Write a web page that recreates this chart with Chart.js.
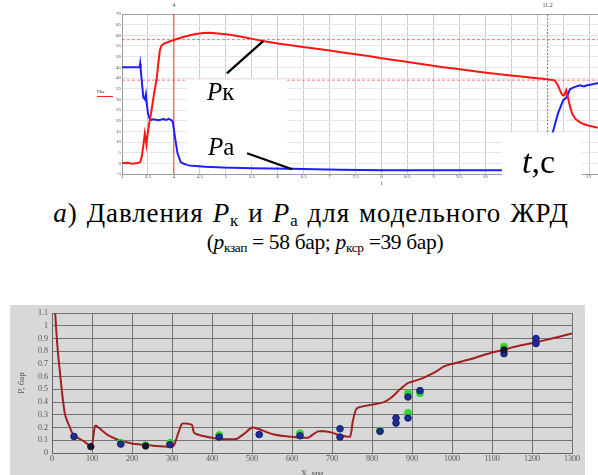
<!DOCTYPE html>
<html>
<head>
<meta charset="utf-8">
<script src="https://cdn.jsdelivr.net/npm/chart.js@4/dist/chart.umd.min.js"></script>
<style>
  html, body { margin: 0; padding: 0; background: #fff; width: 598px; height: 475px; overflow: hidden; }
  .wrap { position: absolute; left: 0; overflow: hidden; width: 598px; }
  .txt { position: absolute; font-family: "Liberation Serif", "Times New Roman", serif; color: #000; line-height: 1; white-space: nowrap; }
  .cap { width: 600px; text-align: center; }
  .txt sub { font-size: 62%; vertical-align: -0.25em; line-height: 0; }
  #panel { position: absolute; left: 10px; top: 305px; width: 575px; height: 170px; background: #d8d8d8; }
</style>
</head>
<body>
<div class="wrap" style="top:0;height:190px;"><canvas id="top" width="650" height="190"></canvas></div>

<!-- labels of the engine pressure plot -->
<div class="txt" style="left:97px;top:89px;font-size:5px;color:#333;">Pka</div>
<div style="position:absolute;left:97px;top:96px;width:16px;height:1px;background:#ff2020;"></div>
<div class="txt" style="left:207px;top:79px;font-size:25px;"><i>P</i>к</div>
<div class="txt" style="left:208px;top:134px;font-size:25px;"><i>P</i>a</div>
<div class="txt" style="left:522px;top:145px;font-size:34px;"><i>t</i>,с</div>

<div class="txt cap" style="left:11px;top:200px;font-size:27px;letter-spacing:0.9px;word-spacing:1.5px;"><i>а</i>) Давления <i>P</i><sub>к</sub> и <i>P</i><sub>а</sub> для модельного ЖРД</div>
<div class="txt cap" style="left:25px;top:232px;font-size:21.5px;letter-spacing:-0.35px;">(<i>p</i><sub>кзап</sub> = 58 бар; <i>p</i><sub>кср</sub> =39 бар)</div>

<div id="panel"></div>
<div class="wrap" style="top:290px;height:185px;"><canvas id="bottom" width="598" height="200"></canvas></div>

<script>
// ---------- engine pressures vs time ----------
const pkTime  = [3.0, 3.1, 3.2, 3.3, 3.35, 3.38, 3.42, 3.44, 3.46, 3.47, 3.49, 3.52, 3.57, 3.62, 3.67, 3.7, 3.73, 3.76, 3.8, 3.9, 4.0, 4.1, 4.2, 4.31, 4.42, 4.56, 4.7, 4.85, 5.08, 5.25, 5.4, 5.56, 5.72, 6.0, 6.25, 6.49, 6.75, 7.0, 7.25, 7.5, 7.75, 7.97, 8.2, 8.45, 8.7, 8.93, 9.15, 9.4, 9.65, 9.9, 10.15, 10.4, 10.65, 10.86, 11.1, 11.34, 11.4, 11.44, 11.48, 11.52, 11.56, 11.6, 11.64, 11.68, 11.74, 11.82, 11.9, 12.0, 12.15, 12.3, 12.5];
const pkValue = [0.0, 0.3, -0.2, 0.2, 0.5, 3.0, 10.0, 14.0, 11.0, 9.0, 13.0, 18.0, 25.0, 33.0, 40.0, 47.0, 53.0, 55.2, 56.0, 57.0, 57.8, 58.6, 59.3, 60.0, 60.6, 61.1, 61.2, 60.9, 60.3, 59.6, 58.9, 58.1, 57.3, 56.2, 55.3, 54.5, 53.7, 52.9, 52.0, 51.1, 50.3, 49.4, 48.6, 47.7, 46.8, 46.0, 45.2, 44.4, 43.6, 42.8, 42.1, 41.4, 40.8, 40.2, 39.6, 38.9, 36.5, 34.2, 32.2, 31.8, 34.3, 30.0, 26.0, 23.0, 20.8, 19.3, 18.3, 17.6, 16.8, 16.3, 15.8];

const paTime  = [3.0, 3.2, 3.34, 3.35, 3.36, 3.38, 3.41, 3.44, 3.46, 3.47, 3.5, 3.53, 3.56, 3.6, 3.7, 3.8, 3.85, 3.9, 3.95, 3.98, 4.01, 4.03, 4.07, 4.13, 4.2, 4.31, 4.6, 4.95, 5.5, 6.24, 7.2, 8.0, 9.0, 10.0, 11.2, 11.25, 11.3, 11.4, 11.5, 11.57, 11.63, 11.7, 11.82, 11.9, 11.96, 12.05, 12.15, 12.3, 12.5];
const paValue = [45.0, 45.0, 45.0, 46.7, 44.0, 39.0, 31.0, 30.0, 32.4, 29.5, 23.4, 21.0, 20.3, 20.6, 20.2, 20.8, 20.3, 20.9, 20.3, 19.4, 14.0, 10.8, 4.7, 0.6, -0.3, -1.0, -1.6, -2.0, -2.3, -2.5, -3.0, -3.2, -3.3, -3.3, -3.3, 3.0, 14.5, 23.4, 29.5, 31.0, 34.7, 35.6, 36.6, 36.0, 36.6, 37.0, 37.5, 37.8, 38.0];

const refLevels   = [58, 39];     // p_kzap and p_kcp levels, bar
const cursorTimes = [4, 11.2];    // cursor markers, s
const timeRange   = [3, 13];
const topTicksX   = [3, 3.5, 4, 4.5, 5, 5.5, 6, 6.5, 7, 7.5, 8, 8.5, 9, 9.5, 10, 10.5, 11, 11.5, 12, 12.5, 13];
const topTicksY   = [-5, 0, 5, 10, 15, 20, 25, 30, 35, 40, 45, 50, 55, 60, 65, 70];

// ---------- pressure along the nozzle ----------
const profileX = [8, 12, 16, 20, 26, 32, 38, 45, 50, 57, 70, 85, 97, 100, 103, 107, 110, 120, 140, 160, 180, 200, 230, 260, 295, 305, 315, 325, 340, 350, 355, 370, 400, 420, 460, 480, 500, 515, 550, 590, 640, 650, 665, 680, 700, 720, 745, 752, 762, 800, 830, 850, 870, 890, 900, 920, 935, 960, 980, 1000, 1050, 1100, 1130, 1150, 1210, 1250, 1300];
const profileP = [1.1, 0.9, 0.75, 0.63, 0.45, 0.31, 0.25, 0.2, 0.16, 0.13, 0.11, 0.08, 0.05, 0.06, 0.12, 0.21, 0.215, 0.19, 0.14, 0.11, 0.09, 0.075, 0.065, 0.055, 0.05, 0.06, 0.15, 0.23, 0.23, 0.22, 0.16, 0.14, 0.12, 0.11, 0.11, 0.15, 0.2, 0.19, 0.15, 0.13, 0.12, 0.14, 0.17, 0.17, 0.16, 0.14, 0.13, 0.25, 0.35, 0.38, 0.4, 0.44, 0.5, 0.55, 0.56, 0.58, 0.6, 0.64, 0.68, 0.7, 0.74, 0.79, 0.81, 0.83, 0.87, 0.9, 0.94];

const greenX = [172, 234, 295, 418, 620, 820, 890, 890, 920, 1130];
const greenP = [0.08, 0.06, 0.08, 0.14, 0.155, 0.175, 0.47, 0.315, 0.47, 0.835];
const blueX  = [55, 172, 295, 418, 518, 620, 720, 720, 820, 860, 860, 890, 890, 920, 1130, 1210, 1210];
const blueP  = [0.13, 0.07, 0.065, 0.125, 0.145, 0.135, 0.19, 0.125, 0.17, 0.275, 0.235, 0.44, 0.275, 0.49, 0.78, 0.9, 0.86];
const darkX  = [97, 234, 1130];
const darkP  = [0.05, 0.055, 0.81];

const pts = (xs, ys) => xs.map((x, i) => ({ x, y: ys[i] }));
const plain = v => String(v);

// blank label boxes and leader lines on the time plot (value coordinates)
const labelBoxes = [
  { t0: 4.25, t1: 6.18, v0: -0.5, v1: 39.3, below: 0 },
  { t0: 10.32, t1: 11.86, v0: null, v1: 14.5, below: 7 }
];
const leaders = [
  [[5.02, 42.2], [5.72, 57.3]],
  [[5.41, 4.7], [6.28, -2.8]]
];

const topOverlay = {
  id: 'topOverlay',
  afterDraw(chart) {
    const { ctx, chartArea, scales: { x, y } } = chart;
    ctx.save();
    ctx.fillStyle = '#fff';
    labelBoxes.forEach(b => {
      const xl = x.getPixelForValue(b.t0), xr = x.getPixelForValue(b.t1);
      const yt = y.getPixelForValue(b.v1);
      const yb = b.v0 === null ? chartArea.bottom + b.below : y.getPixelForValue(b.v0);
      ctx.fillRect(xl, yt, xr - xl, yb - yt);
    });
    ctx.strokeStyle = '#000';
    ctx.lineWidth = 2.2;
    leaders.forEach(([a, b]) => {
      ctx.beginPath();
      ctx.moveTo(x.getPixelForValue(a[0]), y.getPixelForValue(a[1]));
      ctx.lineTo(x.getPixelForValue(b[0]), y.getPixelForValue(b[1]));
      ctx.stroke();
    });
    ctx.fillStyle = '#444';
    ctx.font = '6px "Liberation Serif"';
    ctx.textAlign = 'center';
    ctx.textBaseline = 'middle';
    cursorTimes.forEach(c => ctx.fillText(String(c), x.getPixelForValue(c), chartArea.top - 9));
    ctx.restore();
  }
};

const refSets = refLevels.map(v => ({
  data: [{ x: timeRange[0], y: v }, { x: timeRange[1], y: v }],
  borderColor: 'rgba(255,70,70,0.75)', borderWidth: 1, borderDash: [3, 2], pointRadius: 0, order: 3
}));
const cursorSets = cursorTimes.map((c, i) => ({
  data: [{ x: c, y: topTicksY[0] }, { x: c, y: topTicksY[topTicksY.length - 1] }],
  borderColor: 'rgba(230,30,30,0.8)', borderWidth: 1, borderDash: i === 0 ? [] : [2, 1.5], pointRadius: 0, order: 3
}));

new Chart(document.getElementById('top'), {
  type: 'line',
  data: {
    datasets: [
      { data: pts(pkTime, pkValue), borderColor: '#ff1414', borderWidth: 2, pointRadius: 0, order: 0 },
      { data: pts(paTime, paValue), borderColor: '#1e1eff', borderWidth: 2, pointRadius: 0, order: 1 },
      ...refSets, ...cursorSets
    ]
  },
  options: {
    responsive: false, animation: false, devicePixelRatio: 1,
    layout: { padding: { top: 14, right: 9, left: 0, bottom: 0 } },
    plugins: { legend: { display: false }, tooltip: { enabled: false } },
    scales: {
      x: {
        type: 'linear', min: timeRange[0], max: timeRange[1],
        afterBuildTicks: s => { s.ticks = topTicksX.map(v => ({ value: v })); },
        afterFit: s => { s.height = 16; },
        grid: { color: '#cdcdcd', drawTicks: false },
        border: { color: '#9a9a9a' },
        ticks: { padding: 0, callback: plain, font: { family: 'Liberation Serif', size: 5 }, color: '#444', maxRotation: 0, autoSkip: false },
        title: { display: true, text: 't', font: { family: 'Liberation Serif', size: 6 }, color: '#444', padding: { top: 0, bottom: 3.4 } }
      },
      y: {
        type: 'linear', min: -5, max: 70,
        afterBuildTicks: s => { s.ticks = topTicksY.map(v => ({ value: v })); },
        afterFit: s => { s.width = 122; },
        grid: { color: c => (c.tick && c.tick.value === 70 ? '#a0a0a0' : '#e6e6e6'), drawTicks: false },
        border: { color: '#9a9a9a' },
        ticks: { padding: 1, callback: plain, font: { family: 'Liberation Serif', size: 5 }, color: '#444', autoSkip: false }
      }
    }
  },
  plugins: [topOverlay]
});

// ---------- nozzle profile chart ----------
const profileTicksX = [0, 100, 200, 300, 400, 500, 600, 700, 800, 900, 1000, 1100, 1200, 1300];
const profileTicksY = [0, 0.1, 0.2, 0.3, 0.4, 0.5, 0.6, 0.7, 0.8, 0.9, 1, 1.1];
const tickFont = { family: 'Liberation Serif', size: 8 };

new Chart(document.getElementById('bottom'), {
  type: 'line',
  data: {
    datasets: [
      { data: pts(darkX, darkP), showLine: false, pointRadius: 3.2, pointBackgroundColor: '#1a1030', pointBorderColor: '#1a1030', order: 0 },
      { data: pts(blueX, blueP), showLine: false, pointRadius: 3.3, pointBackgroundColor: '#1f2c94', pointBorderColor: '#14206a', order: 1 },
      { data: pts(greenX, greenP), showLine: false, pointRadius: 3.6, pointBackgroundColor: '#2fd82f', pointBorderColor: '#2fd82f', order: 2 },
      { data: pts(profileX, profileP), borderColor: '#a11f1f', borderWidth: 2, pointRadius: 0, tension: 0.2, order: 3 }
    ]
  },
  options: {
    responsive: false, animation: false, devicePixelRatio: 1,
    layout: { padding: { top: 23, right: 26, left: 0, bottom: 0 } },
    plugins: { legend: { display: false }, tooltip: { enabled: false } },
    scales: {
      x: {
        type: 'linear', min: 0, max: 1300,
        afterBuildTicks: s => { s.ticks = profileTicksX.map(v => ({ value: v })); },
        afterFit: s => { s.height = 37; },
        grid: { color: '#737373', drawTicks: false },
        border: { color: '#666' },
        ticks: { padding: 1, callback: plain, font: tickFont, color: '#555', maxRotation: 0, autoSkip: false },
        title: { display: true, text: 'X, мм', font: { family: 'Liberation Serif', size: 9 }, color: '#555', padding: { top: 0, bottom: 10.6 } }
      },
      y: {
        type: 'linear', min: 0, max: 1.1,
        afterBuildTicks: s => { s.ticks = profileTicksY.map(v => ({ value: v })); },
        afterFit: s => { s.width = 52; },
        grid: { color: '#737373', drawTicks: false },
        border: { color: '#666' },
        ticks: { padding: 4, callback: plain, font: tickFont, color: '#555', autoSkip: false },
        title: { display: true, text: 'P, бар', font: { family: 'Liberation Serif', size: 9 }, color: '#555', padding: { top: 16.6, bottom: 0 } }
      }
    }
  }
});
</script>
</body>
</html>
